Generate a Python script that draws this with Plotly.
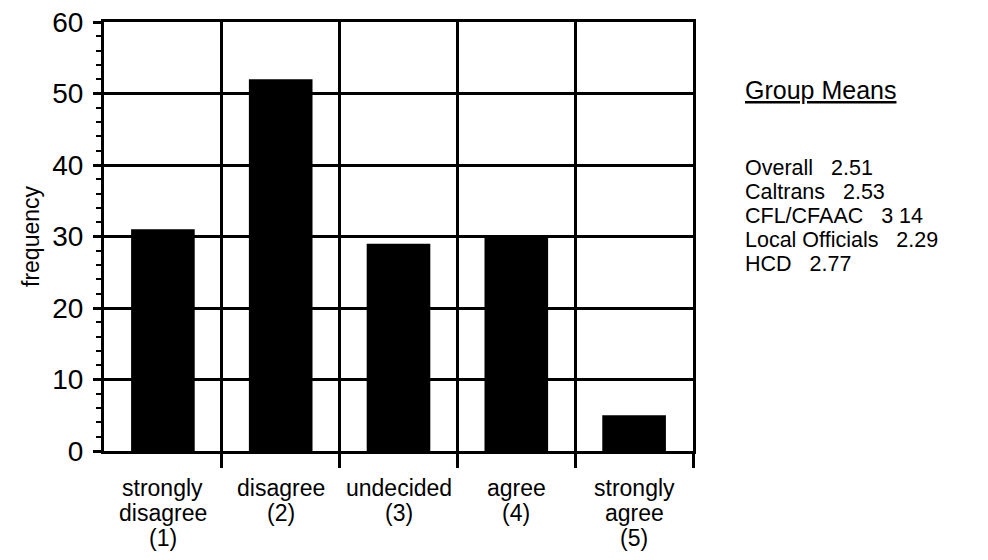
import plotly.graph_objects as go

# survey responses
positions = [1, 2, 3, 4, 5]
label_lines = [
    ["strongly", "disagree", "(1)"],
    ["disagree", "(2)"],
    ["undecided", "(3)"],
    ["agree", "(4)"],
    ["strongly", "agree", "(5)"],
]
frequency = [31, 52, 29, 30, 5]

group_names = ["Overall", "Caltrans", "CFL/CFAAC", "Local Officials", "HCD"]
group_means = ["2.51", "2.53", "3 14", "2.29", "2.77"]

FONT = "Liberation Sans, Arial, sans-serif"

# page body has an 8px margin, so shift everything by that
OFF = 8
# plot area in pixels (as seen on the page)
L, R, T, B = 104 - OFF, 693 - OFF, 22 - OFF, 451 - OFF


def py_to_paper(yp):
    return (B - (yp - OFF)) / (B - T)


def px_to_paper(xp):
    return ((xp - OFF) - L) / (R - L)


fig = go.Figure(data=[go.Bar(
    x=positions, y=frequency,
    marker=dict(color="black", line=dict(width=0)),
    width=0.54,
)])

# category labels under the axis, one annotation per line (tight leading)
for xpos, lines in zip(positions, label_lines):
    for j, txt in enumerate(lines):
        fig.add_annotation(x=xpos, y=py_to_paper(488 + 25 * j), xref="x", yref="paper",
                           text=txt, showarrow=False, xanchor="center", yanchor="middle",
                           font=dict(family=FONT, size=23, color="black"))

# group means block on the right
fig.add_annotation(x=px_to_paper(743), y=py_to_paper(90), xref="paper", yref="paper",
                   text="<u>Group Means</u>", showarrow=False,
                   xanchor="left", yanchor="middle",
                   font=dict(family=FONT, size=25, color="black"))
for i, (n, m) in enumerate(zip(group_names, group_means)):
    fig.add_annotation(x=px_to_paper(743), y=py_to_paper(168 + 24 * i),
                       xref="paper", yref="paper",
                       text=f"{n}   {m}", showarrow=False,
                       xanchor="left", yanchor="middle",
                       font=dict(family=FONT, size=21.5, color="black"))

fig.update_layout(
    width=988, height=560,
    margin=dict(l=L, r=988 - R, t=T, b=560 - B),
    plot_bgcolor="white", paper_bgcolor="white",
    showlegend=False,
    font=dict(family=FONT, color="black"),
    xaxis=dict(
        range=[0.5, 5.5], automargin=False,
        tickvals=positions, showticklabels=False,
        ticks="", showgrid=False, zeroline=False,
        showline=True, linecolor="black", linewidth=3, mirror=True,
        minor=dict(tickvals=[1.5, 2.5, 3.5, 4.5, 5.5], ticks="outside", ticklen=14,
                   tickwidth=2.5, tickcolor="black",
                   showgrid=True, gridcolor="black", gridwidth=2.5),
    ),
    yaxis=dict(
        range=[0, 60], dtick=10, automargin=False,
        ticks="outside", ticklen=8, tickwidth=2.5, tickcolor="black",
        showgrid=True, gridcolor="black", gridwidth=3, zeroline=False,
        tickfont=dict(size=28), ticklabelstandoff=4, ticklabeloverflow="allow",
        showline=True, linecolor="black", linewidth=3, mirror=True,
        title=dict(text="frequency", font=dict(size=23), standoff=7),
        minor=dict(dtick=2, ticks="outside", ticklen=5, tickwidth=2, tickcolor="black"),
    ),
)

fig.write_html("out.html")
